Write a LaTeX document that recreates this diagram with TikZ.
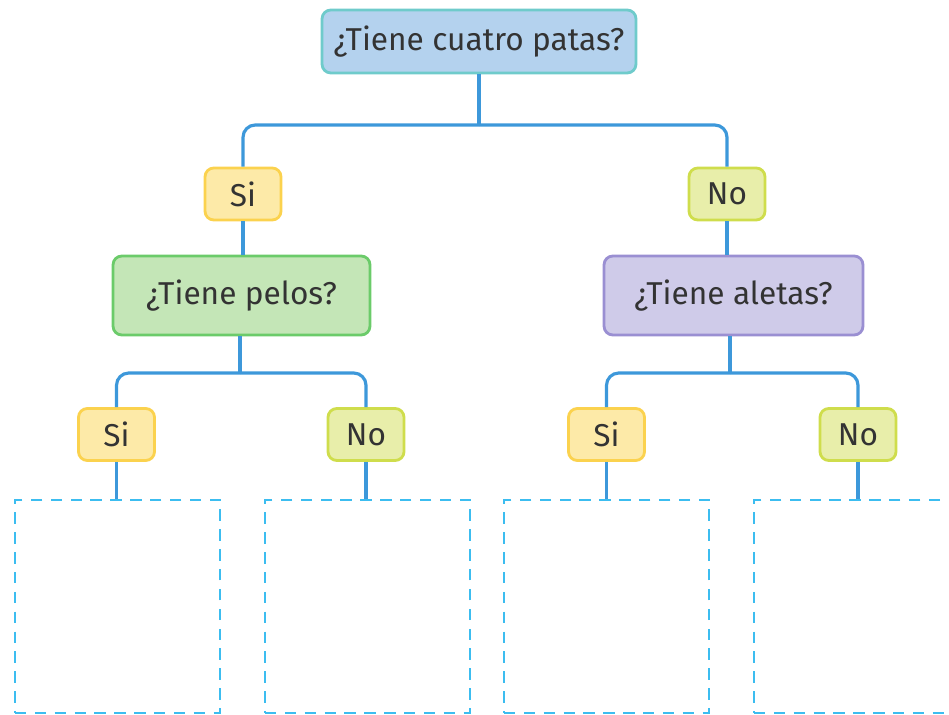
\documentclass[tikz,border=0pt]{standalone}
\usepackage{fontspec}
\setmainfont{Fira Sans}

\definecolor{txtgray}{HTML}{333333}
\definecolor{connblue}{HTML}{3D98DA}
\definecolor{dashblue}{HTML}{3CBDF0}
\definecolor{patasfill}{HTML}{B4D2EE}
\definecolor{patasline}{HTML}{6FCBCB}
\definecolor{sifill}{HTML}{FDEAA8}
\definecolor{siline}{HTML}{FBD24E}
\definecolor{nofill}{HTML}{E8EEAA}
\definecolor{noline}{HTML}{CFDD4C}
\definecolor{pelosfill}{HTML}{C4E6B7}
\definecolor{pelosline}{HTML}{6BCB6A}
\definecolor{aletasfill}{HTML}{CFCBE9}
\definecolor{aletasline}{HTML}{9A8FD2}

\tikzset{
  box/.style={rounded corners=5pt, line width=1.6pt, text=txtgray,
    font=\fontsize{18}{21}\selectfont, inner sep=0pt},
  sibox/.style={box, fill=sifill, draw=siline,
    minimum width=1.52cm, minimum height=1.04cm},
  nobox/.style={box, fill=nofill, draw=noline,
    minimum width=1.52cm, minimum height=1.04cm},
  answer/.style={draw=dashblue, line width=1.6pt,
    dash pattern=on 6.5pt off 4.8pt,
    minimum width=4.1cm, minimum height=4.26cm},
  conn/.style={draw=connblue, line width=1.8pt, rounded corners=7pt},
}

\begin{document}
\begin{tikzpicture}[x=0.02cm,y=-0.02cm]
  \useasboundingbox (0,0) rectangle (949,715);

  % Questions
  \node[box, fill=patasfill, draw=patasline,
    minimum width=6.28cm, minimum height=1.26cm] (patas) at (479,41.5)
    {¿Tiene cuatro patas?};
  \node[box, fill=pelosfill, draw=pelosline,
    minimum width=5.14cm, minimum height=1.58cm] (pelos) at (241.5,295.5)
    {¿Tiene pelos?};
  \node[box, fill=aletasfill, draw=aletasline,
    minimum width=5.18cm, minimum height=1.58cm] (aletas) at (733.5,295.5)
    {¿Tiene aletas?};

  % Answers
  \node[sibox] (si1) at (243,194) {Si};
  \node[nobox] (no1) at (727,194) {No};
  \node[sibox] (si2) at (116.5,434.5) {Si};
  \node[nobox] (no2) at (366,434.5) {No};
  \node[sibox] (si3) at (606.5,434.5) {Si};
  \node[nobox] (no3) at (858,434.5) {No};

  % Empty boxes
  \node[answer] (b1) at (117.5,606.5) {};
  \node[answer] (b2) at (367.5,606.5) {};
  \node[answer] (b3) at (606.5,606.5) {};
  \node[answer] (b4) at (856.5,606.5) {};

  % Branch points
  \coordinate (j1) at (479,125);
  \coordinate (j2) at (240,373);
  \coordinate (j3) at (730,373);

  % Connectors
  \draw[conn] (patas.south) -- (j1);
  \draw[conn] (j1) -| (si1.north);
  \draw[conn] (j1) -| (no1.north);
  \draw[conn] (si1.south) -- (si1.south |- pelos.north);
  \draw[conn] (no1.south) -- (no1.south |- aletas.north);

  \draw[conn] (pelos.south -| j2) -- (j2);
  \draw[conn] (j2) -| (si2.north);
  \draw[conn] (j2) -| (no2.north);
  \draw[conn] (aletas.south -| j3) -- (j3);
  \draw[conn] (j3) -| (si3.north);
  \draw[conn] (j3) -| (no3.north);

  \draw[conn] (si2.south) -- (si2.south |- b1.north);
  \draw[conn] (no2.south) -- (no2.south |- b2.north);
  \draw[conn] (si3.south) -- (si3.south |- b3.north);
  \draw[conn] (no3.south) -- (no3.south |- b4.north);
\end{tikzpicture}
\end{document}
